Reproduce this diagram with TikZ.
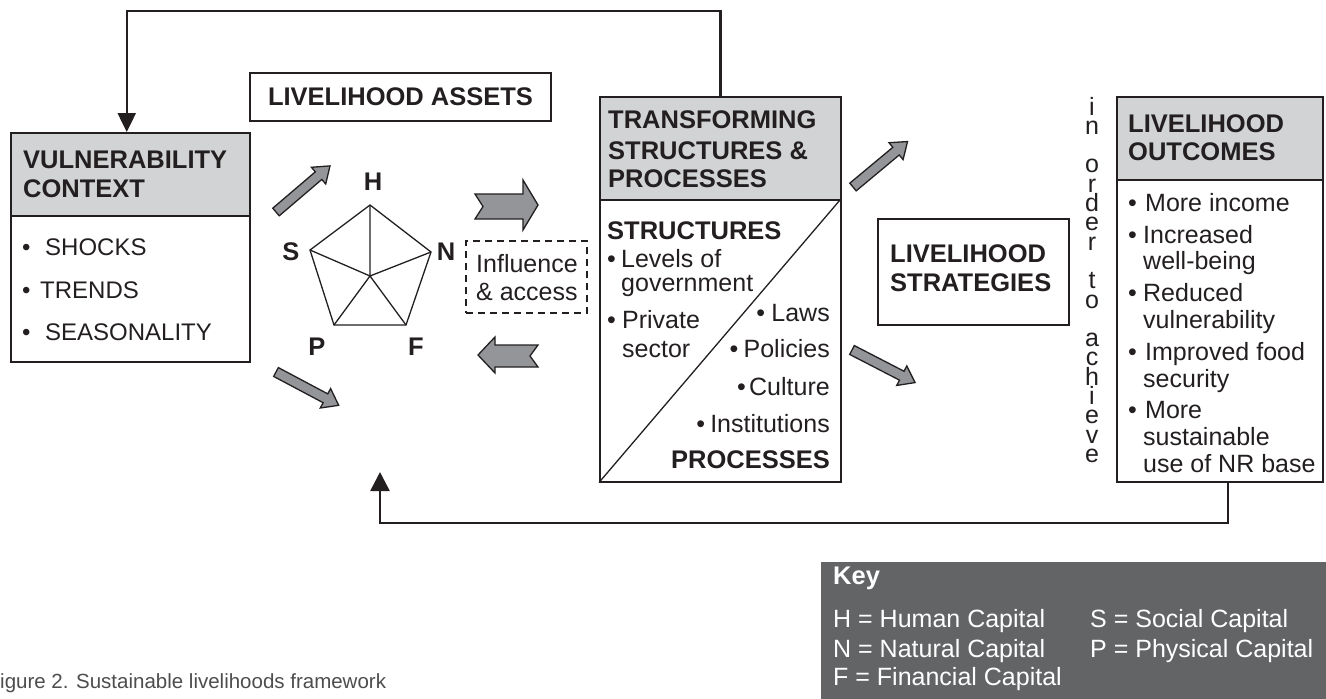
\documentclass[tikz,border=0pt]{standalone}
\usepackage{fontspec}
\setmainfont{Liberation Sans}
\usetikzlibrary{arrows.meta}
\definecolor{ink}{HTML}{231F20}
\definecolor{hdrgray}{HTML}{D1D3D4}
\definecolor{arrowgray}{HTML}{939598}
\definecolor{keygray}{HTML}{636466}
\definecolor{capgray}{HTML}{4D4D4F}
\newcommand\mybul[1]{\makebox[#1][l]{\textbullet}}
\begin{document}
\begin{tikzpicture}[x=1pt,y=-1pt,
  box/.style={draw=ink, line width=1.5pt, inner sep=0pt, minimum width=#1},
  hd/.style={font=\fontsize{25.5}{30}\bfseries\selectfont, text=ink, inner sep=0pt, anchor=base west},
  hdright/.style={hd, anchor=base east},
  tx/.style={font=\fontsize{25}{29}\selectfont, text=ink, inner sep=0pt, anchor=base west},
  txright/.style={tx, anchor=base east},
  vctx/.style={font=\fontsize{24}{28}\selectfont, text=ink, inner sep=0pt, anchor=base west},
  lab/.style={font=\fontsize{25.5}{30}\bfseries\selectfont, text=ink, inner sep=0pt, anchor=base},
  vlet/.style={font=\fontsize{25}{19}\selectfont, text=ink, inner sep=0pt, anchor=base, text height=14pt, text depth=2pt},
  keytx/.style={font=\fontsize{25}{29}\selectfont, text=white, inner sep=0pt, anchor=base west},
  conn/.style={draw=ink, line width=2.5pt},
  garrow/.style={draw=ink, line width=1.3pt, fill=arrowgray, line join=miter},
  pent/.style={draw=ink, line width=1.3pt, line join=miter},
  garrowpic/.pic={\draw[garrow] (0,-5) -- (56,-5) -- (56,-11) -- (71,0) -- (56,11) -- (56,5) -- (0,5) -- cycle;}
]
\useasboundingbox (0,0) rectangle (1326,699);

% ---------- Vulnerability context ----------
\fill[hdrgray] (10,132) rectangle (249,216);
\node[box=239pt, minimum height=229pt, anchor=north west] (vc) at (10,132) {};
\draw[draw=ink, line width=1.5pt] (10,216) -- (249,216);
\node[hd] (vc1) at (23,168) {VULNERABILITY};
\node[hd] (vc2) at (23,197) {CONTEXT};
\node[vctx] (vc3) at (22,255) {\mybul{23pt}SHOCKS};
\node[vctx] (vc4) at (22,298) {\mybul{18pt}TRENDS};
\node[vctx] (vc5) at (22,340) {\mybul{23pt}SEASONALITY};

% ---------- Livelihood assets ----------
\node[box=301pt, minimum height=48pt, font=\fontsize{25.5}{30}\bfseries\selectfont, text=ink] (la) at (400.5,97) {LIVELIHOOD ASSETS};

% pentagon
\coordinate (pH) at (370,205);
\coordinate (pS) at (310,250);
\coordinate (pN) at (431,252);
\coordinate (pF) at (406,325);
\coordinate (pP) at (334,325);
\coordinate (pC) at (370,276);
\draw[pent] (pH) -- (pN) -- (pF) -- (pP) -- (pS) -- cycle;
\draw[pent] (pC) -- (pH) (pC) -- (pN) (pC) -- (pF) (pC) -- (pP) (pC) -- (pS);
\node[lab] (lH) at (373,190) {H};
\node[lab] (lS) at (291,260) {S};
\node[lab] (lN) at (446,260) {N};
\node[lab] (lP) at (317,355) {P};
\node[lab] (lF) at (416,355) {F};

% influence & access
\node[draw=ink, line width=1.5pt, dash pattern=on 7pt off 5pt, minimum width=121pt, minimum height=72pt, inner sep=0pt] (inf) at (526.5,277) {};
\node[tx] (inf1) at (476,272) {Influence};
\node[tx] (inf2) at (476,300) {\& access};

% block arrows around the assets
\pic[rotate=40.5] at (276,212) {garrowpic};
\pic[rotate=-28] at (276,372) {garrowpic};
\draw[garrow] (475,194) -- (523,194) -- (523,180) -- (538,205) -- (523,230) -- (523,219) -- (475,219) -- (483,206.5) -- cycle;
\draw[garrow] (478,355) -- (495,337) -- (495,345) -- (538,345) -- (530,356) -- (538,367) -- (495,367) -- (495,373) -- cycle;

% ---------- Transforming structures ----------
\fill[hdrgray] (599,96) rectangle (840,200);
\node[box=241pt, minimum height=385pt, anchor=north west] (tr) at (599,96) {};
\draw[draw=ink, line width=1.5pt] (599,200) -- (840,200);
\draw[draw=ink, line width=1.3pt] (tr.south west) -- (840,200);
\node[hd] (tr1) at (608,128) {TRANSFORMING};
\node[hd] (tr2) at (608,159) {STRUCTURES \&};
\node[hd] (tr3) at (608,187) {PROCESSES};
\node[hd] (tr4) at (607,239) {STRUCTURES};
\node[tx] (tr5) at (607,267) {\mybul{14pt}Levels of};
\node[tx] (tr6) at (621,291) {government};
\node[tx] (tr7) at (607,328) {\mybul{15pt}Private};
\node[tx] (tr8) at (622,357) {sector};
\node[txright] (tr9) at (830,321) {\mybul{15pt}Laws};
\node[txright] (tr10) at (830,357) {\mybul{14pt}Policies};
\node[txright] (tr11) at (830,395) {\mybul{12pt}Culture};
\node[txright] (tr12) at (830,432) {\mybul{14pt}Institutions};
\node[hdright] (tr13) at (830,468) {PROCESSES};

\pic[rotate=39.8] at (853,187) {garrowpic};
\pic[rotate=-27.3] at (852,350) {garrowpic};

% ---------- Strategies ----------
\node[box=191pt, minimum height=106pt, anchor=north west] (ls) at (877,218) {};
\node[hd] (ls1) at (890,262) {LIVELIHOOD};
\node[hd] (ls2) at (890,291) {STRATEGIES};

% in order to achieve
\foreach \ch/\k in {i/0,n/1,o/3,r/4,d/5,e/6,r/7,t/9,o/10,a/12,c/13,h/14,i/15,e/16,v/17,e/18}
  \node[vlet] (v\k) at (1092,{115+19.3*\k}) {\ch};

% ---------- Outcomes ----------
\fill[hdrgray] (1116,96) rectangle (1322,180);
\node[box=206pt, minimum height=385pt, anchor=north west] (oc) at (1116,96) {};
\draw[draw=ink, line width=1.5pt] (1116,180) -- (1322,180);
\node[hd] (oc1) at (1128,132) {LIVELIHOOD};
\node[hd] (oc2) at (1128,160) {OUTCOMES};
\node[tx] (oc3) at (1128,211) {\mybul{17pt}More income};
\node[tx] (oc4) at (1128,243) {\mybul{15pt}Increased};
\node[tx] (oc5) at (1143,269) {well-being};
\node[tx] (oc6) at (1128,301) {\mybul{15pt}Reduced};
\node[tx] (oc7) at (1143,328) {vulnerability};
\node[tx] (oc8) at (1128,360) {\mybul{17pt}Improved food};
\node[tx] (oc9) at (1143,387) {security};
\node[tx] (oc10) at (1128,418) {\mybul{17pt}More};
\node[tx] (oc11) at (1143,445) {sustainable};
\node[tx] (oc12) at (1143,472) {use of NR base};

% ---------- feedback connectors ----------
\coordinate (topy) at (0,11);
\coordinate (boty) at (0,523);
\coordinate (fb) at (380,472);
\draw[conn, -{Triangle[length=19pt,width=18pt]}] (tr.north) -- (tr.north |- topy) -| ([xshift=-3.5pt]vc.north);
\draw[conn, -{Triangle[length=19pt,width=19pt]}] ([xshift=8pt]oc.south) -- ([xshift=8pt]oc.south |- boty) -| (fb);

% ---------- Key ----------
\node[fill=keygray, minimum width=505pt, minimum height=137pt, inner sep=0pt, anchor=north west] (key) at (821,562) {};
\node[keytx, font=\fontsize{25.5}{30}\bfseries\selectfont] (k0) at (833,584) {Key};
\node[keytx] (k1) at (833,627) {H = Human Capital};
\node[keytx] (k2) at (1090,627) {S = Social Capital};
\node[keytx] (k3) at (833,657) {N = Natural Capital};
\node[keytx] (k4) at (1090,657) {P = Physical Capital};
\node[keytx] (k5) at (833,685) {F = Financial Capital};

% ---------- caption ----------
\node[font=\fontsize{20.5}{24}\selectfont, text=capgray, inner sep=0pt, anchor=base west] (cap) at (0,688) {igure 2. Sustainable livelihoods framework};
\end{tikzpicture}
\end{document}
